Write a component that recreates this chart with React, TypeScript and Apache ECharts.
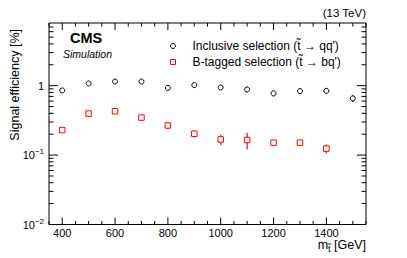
import React, { useEffect, useRef } from "react";
import * as echarts from "echarts";

// ---- data ----
const inclusiveMass = [400, 500, 600, 700, 800, 900, 1000, 1100, 1200, 1300, 1400, 1500];
const inclusiveEff = [0.854, 1.075, 1.148, 1.148, 0.93, 1.02, 0.943, 0.882, 0.774, 0.835, 0.843, 0.656];
const inclusiveErr = [0.01, 0.015, 0.015, 0.02, 0.08, 0.07, 0.07, 0.08, 0.07, 0.07, 0.08, 0.07];

const btagMass = [400, 500, 600, 700, 800, 900, 1000, 1100, 1200, 1300, 1400];
const btagEff = [0.229, 0.396, 0.428, 0.347, 0.267, 0.203, 0.168, 0.165, 0.151, 0.151, 0.124];
const btagErr = [0.004, 0.006, 0.008, 0.03, 0.025, 0.022, 0.028, 0.045, 0.01, 0.01, 0.018];

const xMajorTicks = [400, 600, 800, 1000, 1200, 1400];
const yDecades = [0.01, 0.1, 1];

const X_MIN = 350;
const X_MAX = 1550;
const Y_MIN = 0.01;
const Y_MAX = 8;

const LEGEND_INCL = "Inclusive selection (t\u0303 \u2192 qq')";
const LEGEND_BTAG = "B-tagged selection (t\u0303 \u2192 bq')";

const FONT = "Liberation Sans, Arial, Helvetica, sans-serif";

export default function App() {
  const ref = useRef<HTMLDivElement>(null);

  useEffect(() => {
    if (!ref.current) return;
    const chart = echarts.init(ref.current, undefined, { renderer: "svg" });

    const xMinor: number[] = [];
    for (let v = X_MIN; v <= X_MAX; v += 50) xMinor.push(v);

    const tickSeries = {
      type: "custom",
      silent: true,
      clip: false,
      z: 1,
      data: [[X_MIN, Y_MIN]],
      renderItem: (params: any, api: any) => {
        const children: any[] = [];
        const bl = api.coord([X_MIN, Y_MIN]);
        const tr = api.coord([X_MAX, Y_MAX]);
        const x0 = bl[0], yB = bl[1], x1 = tr[0], yT = tr[1];
        const st = { stroke: "#000", lineWidth: 1 };
        xMinor.forEach((v) => {
          const px = api.coord([v, Y_MIN])[0];
          const len = xMajorTicks.indexOf(v) >= 0 ? 7 : 3.5;
          children.push({ type: "line", shape: { x1: px, y1: yB, x2: px, y2: yB - len }, style: st });
          children.push({ type: "line", shape: { x1: px, y1: yT, x2: px, y2: yT + len }, style: st });
        });
        yDecades.forEach((d) => {
          for (let m = 1; m <= 9; m++) {
            const v = m * d;
            if (v >= Y_MAX) break;
            const py = api.coord([X_MIN, v])[1];
            const len = m === 1 ? 9 : 4.5;
            children.push({ type: "line", shape: { x1: x0, y1: py, x2: x0 + len, y2: py }, style: st });
            children.push({ type: "line", shape: { x1: x1, y1: py, x2: x1 - len, y2: py }, style: st });
          }
        });
        return { type: "group", children };
      },
    };

    const errSeries = (mass: number[], eff: number[], err: number[], color: string) => ({
      type: "custom",
      silent: true,
      z: 2,
      data: mass.map((m, i) => [m, eff[i] - err[i], eff[i] + err[i]]),
      encode: { x: 0, y: [1, 2] },
      renderItem: (params: any, api: any) => {
        const p1 = api.coord([api.value(0), api.value(1)]);
        const p2 = api.coord([api.value(0), api.value(2)]);
        return {
          type: "line",
          shape: { x1: p1[0], y1: p1[1], x2: p2[0], y2: p2[1] },
          style: { stroke: color, lineWidth: 1.2 },
        };
      },
    });

    const supLabel = (v: number) => {
      const e = Math.round(Math.log10(v));
      if (Math.abs(Math.log10(v) - e) > 1e-6) return "";
      if (e === 0) return "1";
      if (e < 0 && e >= -2) return "10{sup|\u2212" + -e + "}";
      return "";
    };

    chart.setOption({
      animation: false,
      textStyle: { fontFamily: FONT },
      grid: {
        left: 49,
        right: 41,
        top: 23,
        bottom: 33.5,
        show: true,
        borderColor: "#000",
        borderWidth: 1,
        backgroundColor: "transparent",
      },
      xAxis: {
        type: "value",
        min: X_MIN,
        max: X_MAX,
        minInterval: 200,
        maxInterval: 200,
        axisLine: { show: false },
        axisTick: { show: false },
        splitLine: { show: false },
        axisLabel: {
          color: "#000",
          fontSize: 11,
          margin: 3,
          fontFamily: FONT,
          showMinLabel: false,
          showMaxLabel: false,
          formatter: (v: number) => (xMajorTicks.indexOf(v) >= 0 ? String(v) : ""),
        },
      },
      yAxis: {
        type: "log",
        logBase: 10,
        min: Y_MIN,
        max: Y_MAX,
        axisLine: { show: false },
        axisTick: { show: false },
        splitLine: { show: false },
        axisLabel: {
          color: "#000",
          fontSize: 11,
          margin: 5,
          fontFamily: FONT,
          formatter: supLabel,
          rich: {
            sup: { fontSize: 8, padding: [0, 0, 7, 0], color: "#000", fontFamily: FONT },
          },
        },
      },
      legend: {
        orient: "vertical",
        left: 165,
        top: 35,
        itemWidth: 5,
        itemHeight: 5,
        itemGap: 4,
        itemStyle: { borderWidth: 1 },
        textStyle: { fontSize: 12, color: "#000", fontFamily: FONT, padding: [0, 0, 0, 12] },
        data: [
          { name: LEGEND_INCL, icon: "circle" },
          { name: LEGEND_BTAG, icon: "rect" },
        ],
      },
      graphic: [
        {
          type: "text",
          x: 70,
          y: 38,
          style: { text: "CMS", fontSize: 14.5, fontWeight: "bold", fill: "#000", fontFamily: FONT, textVerticalAlign: "middle" },
        },
        {
          type: "text",
          x: 63,
          y: 54,
          style: { text: "Simulation", fontSize: 10.5, fontStyle: "italic", fill: "#000", fontFamily: FONT, textVerticalAlign: "middle" },
        },
        {
          type: "text",
          x: 366,
          y: 13,
          style: { text: "(13 TeV)", fontSize: 11.5, fill: "#000", fontFamily: FONT, textAlign: "right", textVerticalAlign: "middle" },
        },
        {
          type: "text",
          x: 15,
          y: 29,
          rotation: Math.PI / 2,
          style: {
            text: "Signal efficiency [%]",
            fontSize: 12.5,
            fill: "#000",
            fontFamily: FONT,
            textAlign: "right",
            textVerticalAlign: "middle",
          },
        },
        {
          type: "text",
          x: 366,
          y: 244.5,
          style: {
            text: "m{sub|t\u0303} [GeV]",
            fontSize: 12.5,
            fill: "#000",
            fontFamily: FONT,
            textAlign: "right",
            textVerticalAlign: "middle",
            rich: {
              sub: { fontSize: 9, padding: [8, 0, 0, 0], fill: "#000", fontFamily: FONT },
            },
          },
        },
      ],
      series: [
        tickSeries,
        errSeries(inclusiveMass, inclusiveEff, inclusiveErr, "#000"),
        errSeries(btagMass, btagEff, btagErr, "#ff0000"),
        {
          name: LEGEND_INCL,
          type: "scatter",
          z: 3,
          symbol: "circle",
          symbolSize: 5,
          itemStyle: { color: "#fff", borderColor: "#000", borderWidth: 1, opacity: 1 },
          data: inclusiveMass.map((m, i) => [m, inclusiveEff[i]]),
        },
        {
          name: LEGEND_BTAG,
          type: "scatter",
          z: 3,
          symbol: "rect",
          symbolSize: 5.5,
          itemStyle: { color: "#fff", borderColor: "#ff0000", borderWidth: 1, opacity: 1 },
          data: btagMass.map((m, i) => [m, btagEff[i]]),
        },
      ],
    });

    return () => chart.dispose();
  }, []);

  return (
    <div
      ref={ref}
      style={{ position: "absolute", left: 0, top: 0, width: 407, height: 258, background: "#fff" }}
    />
  );
}
